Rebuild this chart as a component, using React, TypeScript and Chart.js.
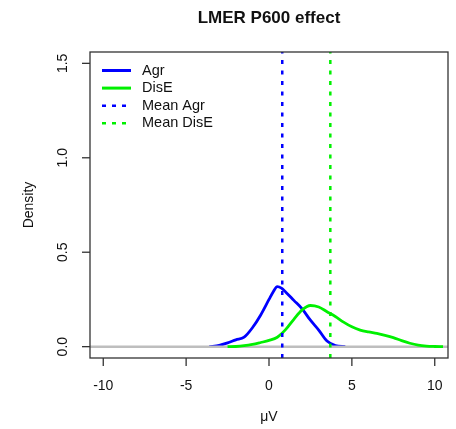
import { useEffect, useRef } from "react";
import { Chart, registerables } from "chart.js";

Chart.register(...registerables);

const titleText = "LMER P600 effect";
const xLabel = "μV";
const yLabel = "Density";
const xTicks = [-10, -5, 0, 5, 10];
const xTickLabels = ["-10", "-5", "0", "5", "10"];
const yTicks = [0, 0.5, 1, 1.5];
const yTickLabels = ["0.0", "0.5", "1.0", "1.5"];
const xMin = -10.8;
const xMax = 10.8;
const yMin = -0.06;
const yMax = 1.56;

const agrX = [-3.6, -3, -2.5, -2, -1.5, -1, -0.5, 0, 0.25, 0.5, 0.75, 1, 1.5, 2, 2.5, 3, 3.5, 4, 4.6];
const agrY = [0, 0.007, 0.02, 0.036, 0.05, 0.1, 0.168, 0.25, 0.29, 0.318, 0.31, 0.29, 0.245, 0.2, 0.14, 0.088, 0.03, 0.006, 0];

const diseX = [-2.5, -2, -1.5, -1, -0.5, 0, 0.5, 1, 1.5, 2, 2.5, 3, 3.5, 4, 4.5, 5, 5.5, 6, 6.5, 7, 7.5, 8, 8.5, 9, 9.5, 10, 10.5];
const diseY = [0, 0.001, 0.005, 0.012, 0.022, 0.033, 0.05, 0.09, 0.145, 0.195, 0.218, 0.21, 0.185, 0.16, 0.13, 0.105, 0.088, 0.078, 0.07, 0.06, 0.048, 0.032, 0.018, 0.008, 0.003, 0.001, 0];

const meanAgr = 0.8;
const meanDisE = 3.7;

const legendLabels = ["Agr", "DisE", "Mean Agr", "Mean DisE"];
const agrColor = "#0000ff";
const diseColor = "#00f000";
const legendColors = [agrColor, diseColor, agrColor, diseColor];
const legendDashed = [false, false, true, true];

const FONT = "'Liberation Sans', Arial, Helvetica, sans-serif";

const rAxesPlugin = {
  id: "rAxes",
  afterDatasetsDraw(chart: any) {
    const { ctx, chartArea, scales } = chart;
    const xs = scales.x;
    const ys = scales.y;
    ctx.save();
    ctx.strokeStyle = "#333";
    ctx.lineWidth = 1.3;
    ctx.setLineDash([]);
    ctx.strokeRect(chartArea.left, chartArea.top, chartArea.right - chartArea.left, chartArea.bottom - chartArea.top);

    ctx.fillStyle = "#111";
    ctx.font = `14px ${FONT}`;
    xTicks.forEach((v, i) => {
      const px = xs.getPixelForValue(v);
      ctx.beginPath();
      ctx.moveTo(px, chartArea.bottom);
      ctx.lineTo(px, chartArea.bottom + 8);
      ctx.stroke();
      ctx.textAlign = "center";
      ctx.textBaseline = "middle";
      ctx.fillText(xTickLabels[i], px, 386);
    });
    yTicks.forEach((v, i) => {
      const py = ys.getPixelForValue(v);
      ctx.beginPath();
      ctx.moveTo(chartArea.left, py);
      ctx.lineTo(chartArea.left - 8, py);
      ctx.stroke();
      ctx.save();
      ctx.translate(63, py);
      ctx.rotate(-Math.PI / 2);
      ctx.textAlign = "center";
      ctx.textBaseline = "middle";
      ctx.fillText(yTickLabels[i], 0, 0);
      ctx.restore();
    });
    ctx.textAlign = "center";
    ctx.textBaseline = "middle";
    ctx.fillText(xLabel, xs.getPixelForValue(0), 417);
    ctx.save();
    ctx.translate(29, (chartArea.top + chartArea.bottom) / 2);
    ctx.rotate(-Math.PI / 2);
    ctx.fillText(yLabel, 0, 0);
    ctx.restore();

    ctx.font = `bold 17px ${FONT}`;
    ctx.fillText(titleText, (chartArea.left + chartArea.right) / 2, 18);

    ctx.font = `14.5px ${FONT}`;
    ctx.textAlign = "left";
    legendLabels.forEach((lab, i) => {
      const cy = 70.5 + i * 17.6;
      ctx.strokeStyle = legendColors[i];
      ctx.lineWidth = legendDashed[i] ? 2.5 : 3;
      ctx.setLineDash(legendDashed[i] ? [4, 6] : []);
      ctx.beginPath();
      ctx.moveTo(102, cy);
      ctx.lineTo(131, cy);
      ctx.stroke();
      ctx.fillStyle = "#111";
      ctx.fillText(lab, 142, cy);
    });
    ctx.restore();
  },
};

export default function App() {
  const ref = useRef<HTMLCanvasElement | null>(null);
  useEffect(() => {
    if (!ref.current) return;
    const chart = new Chart(ref.current, {
      type: "line",
      data: {
        datasets: [
          {
            label: "Agr",
            data: agrX.map((x, i) => ({ x, y: agrY[i] })),
            borderColor: agrColor,
            borderWidth: 2.8,
            pointRadius: 0,
            cubicInterpolationMode: "monotone",
            order: 5,
          },
          {
            label: "zero",
            data: [
              { x: xMin, y: 0 },
              { x: xMax, y: 0 },
            ],
            borderColor: "#bebebe",
            borderWidth: 2.5,
            pointRadius: 0,
            order: 4,
          },
          {
            label: "DisE",
            data: diseX.map((x, i) => ({ x, y: diseY[i] })),
            borderColor: diseColor,
            borderWidth: 2.8,
            pointRadius: 0,
            cubicInterpolationMode: "monotone",
            order: 3,
          },
          {
            label: "Mean Agr",
            data: [
              { x: meanAgr, y: yMin },
              { x: meanAgr, y: yMax },
            ],
            borderColor: agrColor,
            borderWidth: 2.5,
            borderDash: [4, 6.5],
            pointRadius: 0,
            order: 2,
          },
          {
            label: "Mean DisE",
            data: [
              { x: meanDisE, y: yMin },
              { x: meanDisE, y: yMax },
            ],
            borderColor: diseColor,
            borderWidth: 2.5,
            borderDash: [4, 6.5],
            pointRadius: 0,
            order: 1,
          },
        ],
      },
      options: {
        animation: false,
        responsive: false,
        layout: { padding: { left: 90, right: 8, top: 52, bottom: 71 } },
        plugins: { legend: { display: false }, tooltip: { enabled: false }, title: { display: false } },
        scales: {
          x: { type: "linear", min: xMin, max: xMax, display: false },
          y: { type: "linear", min: yMin, max: yMax, display: false },
        },
      },
      plugins: [rAxesPlugin],
    });
    return () => chart.destroy();
  }, []);
  return (
    <div style={{ position: "fixed", left: 0, top: 0, width: 456, height: 429, background: "#fff" }}>
      <canvas ref={ref} width={456} height={429} style={{ width: 456, height: 429, display: "block" }} />
    </div>
  );
}
